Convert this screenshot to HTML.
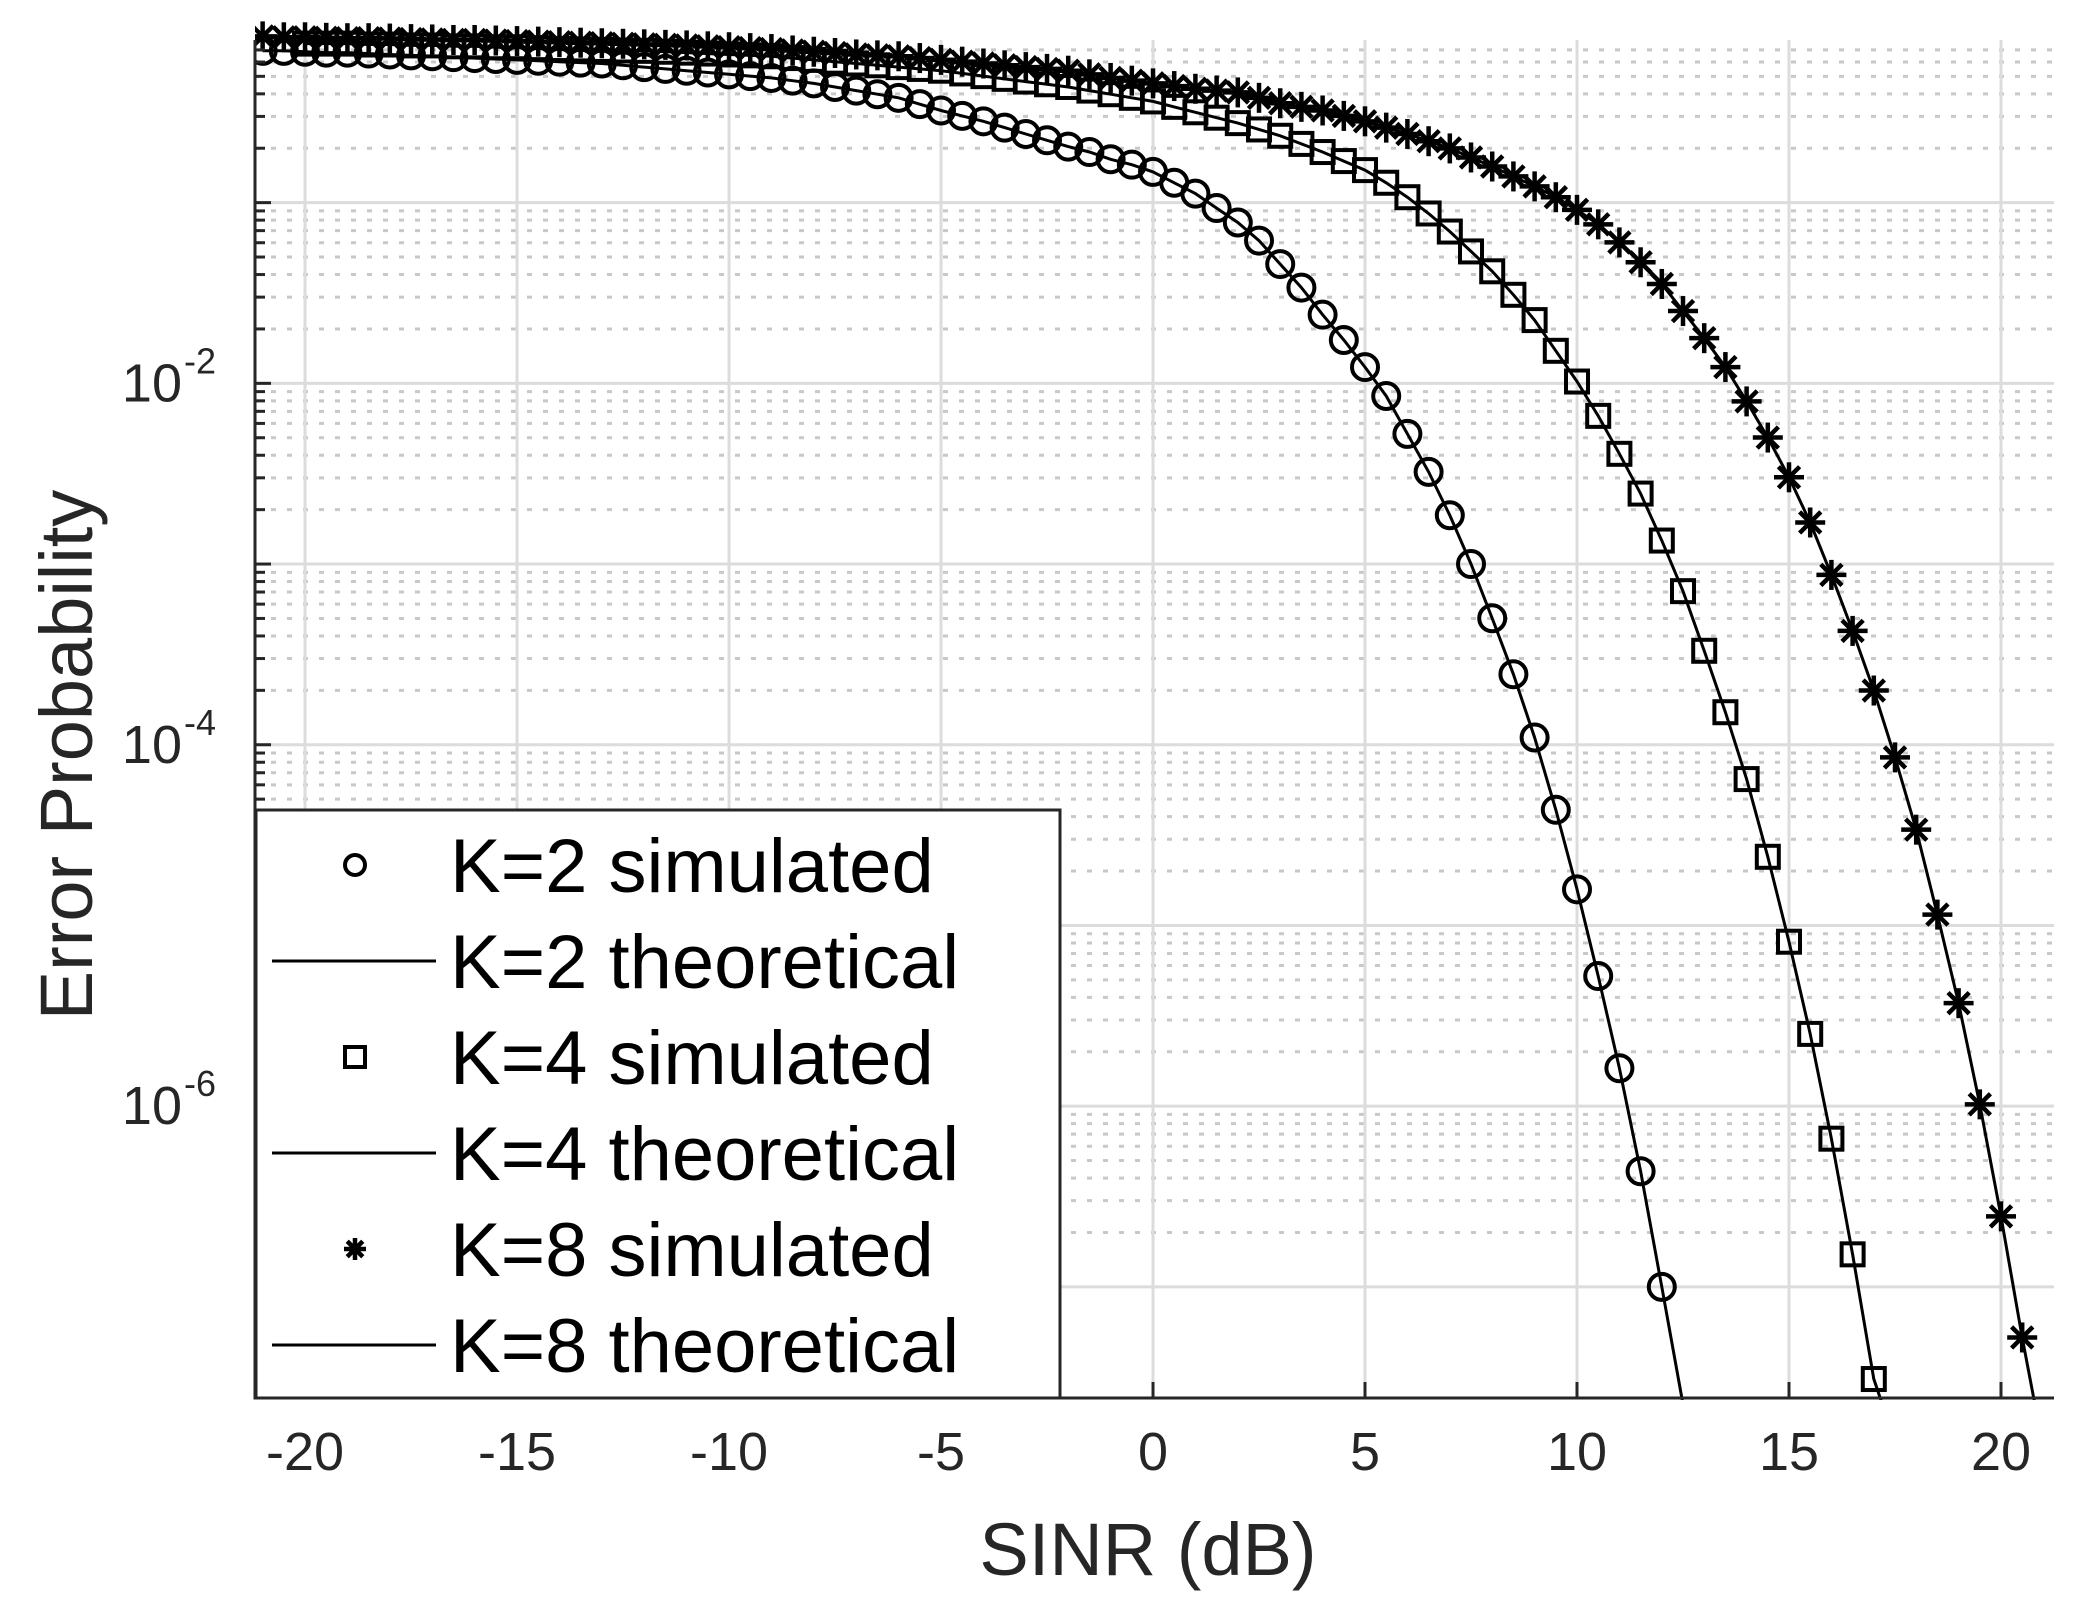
<!DOCTYPE html>
<html><head><meta charset="utf-8"><style>
html,body{margin:0;padding:0;background:#fff;}
svg{display:block;font-family:"Liberation Sans",Arial,sans-serif;}
</style></head><body>
<svg id="chart" width="2082" height="1598" viewBox="0 0 2082 1598" xmlns="http://www.w3.org/2000/svg">
<defs><clipPath id="plotclip"><rect x="255" y="0" width="1830" height="1400"/></clipPath></defs>
<g id="grid"></g>
<g id="series" clip-path="url(#plotclip)"></g>
<g id="axes"></g>
<text x="1148" y="1575" font-size="74" text-anchor="middle" fill="#262626">SINR (dB)</text>
<text transform="translate(92,755) rotate(-90)" font-size="74" text-anchor="middle" fill="#262626">Error Probability</text>
<g id="legend"></g>
</svg>
<script>
const xTicks=[-20,-15,-10,-5,0,5,10,15,20];
const yDecades=[-7,-6,-5,-4,-3,-2,-1];
const yTickLabels=["-2","-4","-6"];
const yTickExps=[-2,-4,-6];
const k2last=12, k4last=17, k8last=20.5;
const k2sim=[-0.16,-0.16,-0.165,-0.17,-0.17,-0.175,-0.18,-0.185,-0.19,-0.195,-0.20,-0.205,-0.21,-0.215,-0.22,-0.225,-0.23,-0.24,-0.25,-0.26,-0.27,-0.28,-0.29,-0.30,-0.31,-0.325,-0.34,-0.36,-0.38,-0.40,-0.42,-0.455,-0.49,-0.52,-0.55,-0.585,-0.62,-0.655,-0.69,-0.72,-0.76,-0.79,-0.83,-0.89,-0.95,-1.03,-1.11,-1.21,-1.34,-1.47,-1.62,-1.76,-1.91,-2.07,-2.28,-2.49,-2.73,-3.00,-3.30,-3.61,-3.96,-4.36,-4.80,-5.28,-5.79,-6.36,-7.0];
const k2theoX=[12.5];
const k2theoY=[-7.65];
const k4sim=[-0.12,-0.12,-0.12,-0.125,-0.125,-0.13,-0.13,-0.135,-0.135,-0.14,-0.14,-0.145,-0.15,-0.152,-0.155,-0.158,-0.16,-0.165,-0.17,-0.175,-0.18,-0.185,-0.19,-0.2,-0.21,-0.22,-0.23,-0.24,-0.25,-0.26,-0.27,-0.285,-0.30,-0.315,-0.33,-0.345,-0.36,-0.38,-0.40,-0.42,-0.44,-0.47,-0.50,-0.53,-0.56,-0.595,-0.63,-0.675,-0.72,-0.77,-0.82,-0.89,-0.97,-1.06,-1.16,-1.27,-1.38,-1.51,-1.65,-1.82,-1.99,-2.18,-2.39,-2.61,-2.87,-3.15,-3.48,-3.82,-4.19,-4.62,-5.09,-5.60,-6.18,-6.82,-7.51];
const k4theoX=[17.2];
const k4theoY=[-7.65];
const k8sim=[-0.08,-0.085,-0.085,-0.088,-0.09,-0.09,-0.092,-0.095,-0.097,-0.1,-0.1,-0.103,-0.106,-0.109,-0.112,-0.115,-0.118,-0.121,-0.124,-0.127,-0.13,-0.135,-0.14,-0.145,-0.15,-0.158,-0.165,-0.172,-0.18,-0.185,-0.19,-0.2,-0.21,-0.22,-0.23,-0.24,-0.25,-0.26,-0.27,-0.29,-0.31,-0.325,-0.34,-0.355,-0.37,-0.38,-0.39,-0.42,-0.45,-0.47,-0.49,-0.52,-0.55,-0.585,-0.62,-0.66,-0.70,-0.75,-0.80,-0.855,-0.91,-0.97,-1.04,-1.12,-1.22,-1.33,-1.45,-1.60,-1.75,-1.91,-2.10,-2.30,-2.52,-2.77,-3.06,-3.37,-3.70,-4.07,-4.47,-4.94,-5.43,-5.99,-6.61,-7.28];
const k8theoX=[20.8];
const k8theoY=[-7.65];

const L=255,R=2054,T=40,B=1398;
const xmin=-21.18,xmax=21.25,ymin=-7.615,ymax=-0.1;
const X=v=>L+(v-xmin)/(xmax-xmin)*(R-L);
const Y=v=>B-(v-ymin)/(ymax-ymin)*(B-T);
const xsFor=(arr,last)=>arr.map((_,i)=>last-(arr.length-1-i)*0.5);
const k2x=xsFor(k2sim,k2last),k4x=xsFor(k4sim,k4last),k8x=xsFor(k8sim,k8last);
const NS="http://www.w3.org/2000/svg";
function mk(tag,attrs,parent){const e=document.createElementNS(NS,tag);for(const k in attrs)e.setAttribute(k,attrs[k]);parent.appendChild(e);return e;}
const grid=document.getElementById('grid'),axes=document.getElementById('axes'),ser=document.getElementById('series'),leg=document.getElementById('legend');
for(const d of yDecades){for(let m=1;m<=9;m++){const v=d+Math.log10(m);if(v<ymin||v>ymax)continue;const y=Y(v);
 if(m===1){const g=mk('line',{x1:L,x2:R,y1:y,y2:y,stroke:'#dcdcdc','stroke-width':3},grid);}
 else{const g=mk('line',{x1:L,x2:R,y1:y,y2:y,stroke:'#c8c8c8','stroke-width':3,'stroke-dasharray':'5 11'},grid);}
 const t=mk('line',{x1:L,x2:L+(m===1?16:10),y1:y,y2:y,stroke:'#262626','stroke-width':3},axes);}}
for(const v of xTicks){const x=X(v);const g=mk('line',{x1:x,x2:x,y1:T,y2:B,stroke:'#dcdcdc','stroke-width':3},grid);
 const t=mk('line',{x1:x,x2:x,y1:B,y2:B-16,stroke:'#262626','stroke-width':3},axes);
 const lb=mk('text',{x:x,y:B+72,'font-size':54,'text-anchor':'middle',fill:'#262626'},axes);lb.textContent=String(v);}
yTickExps.forEach((e,i)=>{const y=Y(e);const lb=mk('text',{x:182,y:y+18,'font-size':54,'text-anchor':'end',fill:'#262626'},axes);lb.textContent='10';
 const s=mk('text',{x:184,y:y-10,'font-size':36,fill:'#262626'},axes);s.textContent=yTickLabels[i];});
const ax1=mk('line',{x1:L,x2:L,y1:T,y2:B+1.5,stroke:'#262626','stroke-width':3},axes);
const ax2=mk('line',{x1:L,x2:R,y1:B,y2:B,stroke:'#262626','stroke-width':3},axes);

function line(xs,ys,name){let d='';xs.forEach((x,i)=>{d+=(i?'L':'M')+X(x).toFixed(1)+' '+Y(ys[i]).toFixed(1);});const p=mk('path',{d:d,fill:'none',stroke:'#000','stroke-width':3},ser);}
function marker(type,cx,cy,r,parent){
 if(type==='o'){return mk('circle',{cx:cx,cy:cy,r:r,fill:'none',stroke:'#000','stroke-width':4},parent);}
 if(type==='s'){return mk('rect',{x:cx-r,y:cy-r,width:2*r,height:2*r,fill:'none',stroke:'#000','stroke-width':4},parent);}
 const g=mk('g',{stroke:'#000','stroke-width':4.5},parent);
 for(const a of [0,45,90,135]){const c=Math.cos(a*Math.PI/180)*r,s=Math.sin(a*Math.PI/180)*r;mk('line',{x1:cx-c,y1:cy-s,x2:cx+c,y2:cy+s},g);}
 return g;}
function series(xs,ys,type,r,name){ys.forEach((v,i)=>{const m=marker(type,X(xs[i]),Y(v),r,ser);});}
line(k2x.concat(k2theoX),k2sim.concat(k2theoY),'k2-theoretical-line');
line(k4x.concat(k4theoX),k4sim.concat(k4theoY),'k4-theoretical-line');
line(k8x.concat(k8theoX),k8sim.concat(k8theoY),'k8-theoretical-line');
series(k2x,k2sim,'o',13,'k2-simulated-marker');
series(k4x,k4sim,'s',11,'k4-simulated-marker');
series(k8x,k8sim,'*',15,'k8-simulated-marker');
const lb=mk('rect',{x:256,y:810,width:804,height:588,fill:'#fff',stroke:'#262626','stroke-width':3},leg);
const entries=[['o','K=2 simulated'],['-','K=2 theoretical'],['s','K=4 simulated'],['-','K=4 theoretical'],['*','K=8 simulated'],['-','K=8 theoretical']];
const ly=[865,961,1057,1153,1249,1345];
entries.forEach((e,i)=>{const y=ly[i];
 let m;if(e[0]==='-'){m=mk('line',{x1:272,x2:436,y1:y,y2:y,stroke:'#000','stroke-width':3},leg);}else{m=marker(e[0],355,y,e[0]==='*'?11:10,leg);}
 
 const t=mk('text',{x:450,y:y+27,'font-size':76,fill:'#000'},leg);t.textContent=e[1];});
</script>
</body></html>
